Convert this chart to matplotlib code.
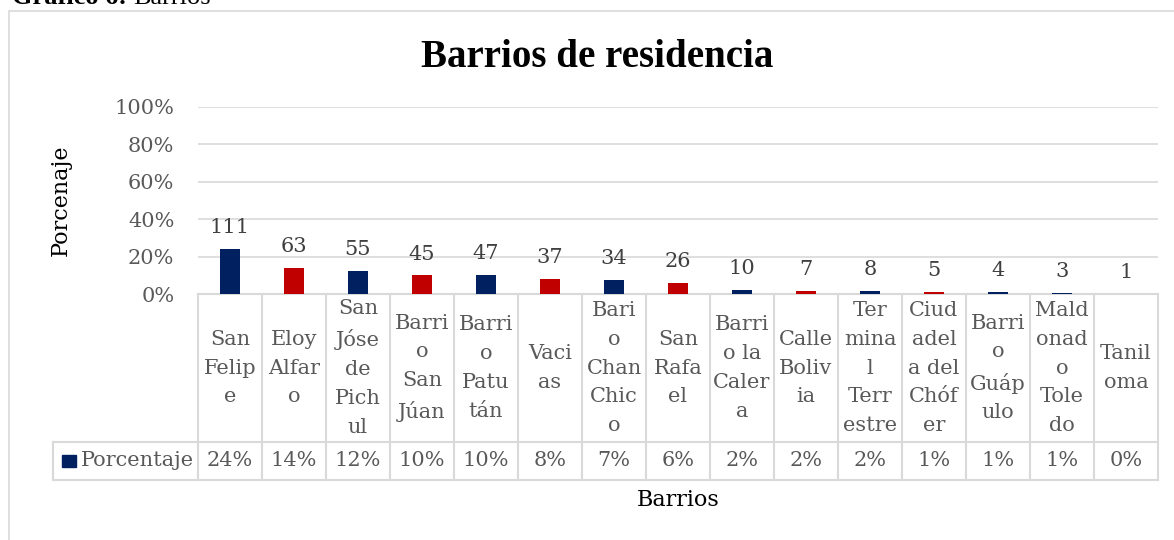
import matplotlib
matplotlib.use('Agg')
import matplotlib.pyplot as plt
from matplotlib.patches import Rectangle
from matplotlib.transforms import blended_transform_factory

plt.rcParams['font.family'] = ['DejaVu Serif']

barrios = ['San\nFelip\ne', 'Eloy\nAlfar\no', 'San\nJóse\nde\nPich\nul',
           'Barri\no\nSan\nJúan', 'Barri\no\nPatu\ntán', 'Vaci\nas',
           'Bari\no\nChan\nChic\no', 'San\nRafa\nel', 'Barri\no la\nCaler\na',
           'Calle\nBoliv\nia', 'Ter\nmina\nl\nTerr\nestre', 'Ciud\nadel\na del\nChóf\ner',
           'Barri\no\nGuáp\nulo', 'Mald\nonad\no\nTole\ndo', 'Tanil\noma']
conteo = [111, 63, 55, 45, 47, 37, 34, 26, 10, 7, 8, 5, 4, 3, 1]
porcentaje = [24.3, 13.8, 12.1, 9.9, 10.3, 8.1, 7.5, 5.7, 2.2, 1.5, 1.8, 1.1, 0.9, 0.7, 0.2]
porcentaje_tabla = ['24%', '14%', '12%', '10%', '10%', '8%', '7%', '6%', '2%', '2%', '2%', '1%', '1%', '1%', '0%']
colores = ['#002060', '#C00000', '#002060', '#C00000', '#002060', '#C00000', '#002060',
           '#C00000', '#002060', '#C00000', '#002060', '#C00000', '#002060', '#002060', '#002060']
yticks = [0, 20, 40, 60, 80, 100]

W, H = 1174, 540
gris = '#595959'
linea = '#D9D9D9'
fs = 15

fig = plt.figure(figsize=(W / 100, H / 100), dpi=100)

# chart border
fig.add_artist(Rectangle((9 / W, -0.05), 1.2, 1 - 11 / H + 0.05, transform=fig.transFigure,
                         fill=False, edgecolor=linea, linewidth=1.2))

# caption cut at the top
fig.text(12 / W, 1 - 4 / H, 'Gráfico 6:', fontsize=19, fontweight='bold', va='baseline',
         ha='left', family='Liberation Serif')
fig.text(133 / W, 1 - 4 / H, 'Barrios', fontsize=19, va='baseline', ha='left',
         family='Liberation Serif')

fig.text(597 / W, 1 - 67 / H, 'Barrios de residencia', fontsize=28, fontweight='bold',
         ha='center', va='baseline', family='Liberation Serif')

ax = fig.add_axes([198 / W, 1 - 294 / H, 960 / W, 187 / H])
x = list(range(len(conteo)))
ax.bar(x, porcentaje, width=0.31, color=colores, zorder=3)
ax.set_xlim(-0.5, len(conteo) - 0.5)
ax.set_ylim(0, 100)
ax.set_yticks(yticks)
ax.set_yticklabels([f'{v}%' for v in yticks], fontsize=fs, color=gris)
ax.tick_params(axis='y', length=0, pad=17)
ax.set_xticks([])
for s in ax.spines.values():
    s.set_visible(False)
ax.grid(axis='y', color=linea, linewidth=1.2, zorder=0)

for xi, p, c in zip(x, porcentaje, conteo):
    ax.annotate(str(c), (xi, p), xytext=(0, 11.5), textcoords='offset points',
                ha='center', va='baseline', fontsize=fs, color='#404040')

ax.set_ylabel('Porcenaje', fontsize=16, color='black', labelpad=0)
ax.yaxis.set_label_coords(-(198 - 72) / 960, 0.5)

# data table under the axis
tr = blended_transform_factory(ax.transData, ax.transAxes)
y_cat = (294 - 442) / 187
y_bot = (294 - 480) / 187
x_left = -0.5 - (198 - 53) / 64
n = len(conteo)
kw = dict(transform=tr, clip_on=False, color=linea, linewidth=1.5)
ax.plot([-0.5, n - 0.5], [0, 0], **kw)
ax.plot([x_left, n - 0.5], [y_cat, y_cat], **kw)
ax.plot([x_left, n - 0.5], [y_bot, y_bot], **kw)
ax.plot([x_left, x_left], [y_cat, y_bot], **kw)
for i in range(n + 1):
    ax.plot([i - 0.5, i - 0.5], [0, y_bot], **kw)

for xi, lab, pt in zip(x, barrios, porcentaje_tabla):
    ax.text(xi, y_cat / 2, lab, transform=tr, ha='center', va='center', fontsize=fs,
            color=gris, linespacing=1.65)
    ax.text(xi, (y_cat + y_bot) / 2, pt, transform=tr, ha='center', va='center',
            fontsize=fs, color=gris)

ax.add_patch(Rectangle((-0.5 - (198 - 62) / 64, (294 - 467) / 187), 14 / 64, 12 / 187,
                       transform=tr, clip_on=False, color='#002060'))
ax.text(-0.5 - (198 - 81) / 64, (y_cat + y_bot) / 2, 'Porcentaje', transform=tr,
        ha='left', va='center', fontsize=fs, color=gris)

ax.text((n - 1) / 2, (294 - 500) / 187, 'Barrios', transform=tr, ha='center', va='center',
        fontsize=16, color='black')

fig.savefig('out.png', dpi=100)
